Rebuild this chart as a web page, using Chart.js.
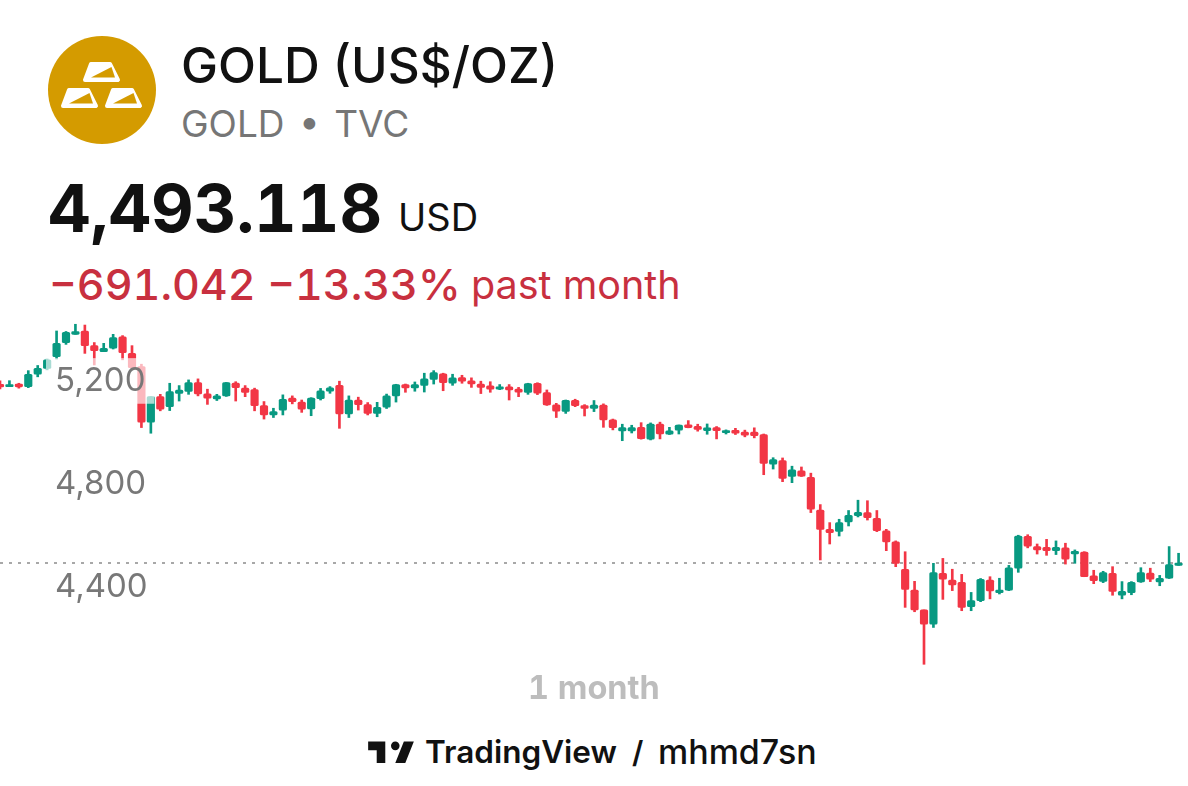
<!DOCTYPE html>
<html>
<head>
<meta charset="utf-8">
<script src="https://cdn.jsdelivr.net/npm/chart.js@4"></script>
<style>
  html, body { margin: 0; padding: 0; background: #fff; }
  body { position: relative; width: 1188px; height: 786px; overflow: hidden; font-family: Inter, "Liberation Sans", sans-serif; }
  .txt { position: absolute; white-space: nowrap; line-height: 1; }
  .num { font-feature-settings: "tnum"; }
  #chart { position: absolute; left: 0; top: 315px; }
</style>
</head>
<body>
<svg style="position:absolute;left:48px;top:36px" width="108" height="108" viewBox="0 0 108 108">
  <circle cx="54" cy="54" r="54" fill="#d49b00"/>
  <g id="bars" stroke-linejoin="round">
    <path d="M43 28H62L70 44H37Z" fill="#fff" stroke="#fff" stroke-width="4"/>
    <path d="M43 41.5L63.5 31L67 41.5Z" fill="#d49b00"/>
    <path d="M21 54H40L48 70H15Z" fill="#fff" stroke="#fff" stroke-width="4"/>
    <path d="M21 67.5L41.5 57L45 67.5Z" fill="#d49b00"/>
    <path d="M65 54H84L92 70H59Z" fill="#fff" stroke="#fff" stroke-width="4"/>
    <path d="M65 67.5L85.5 57L89 67.5Z" fill="#d49b00"/>
  </g>
</svg>
<div class="txt" style="left:181px;top:41px;font-size:49.5px;font-weight:500;color:#111">GOLD (US$/OZ)</div>
<div class="txt" style="left:181px;top:105px;font-size:37px;color:#767676;word-spacing:4px">GOLD • TVC</div>
<div class="txt num" style="left:48px;top:175px;font-size:66px;font-weight:700;color:#111">4,493.118</div>
<div class="txt" style="left:398px;top:198px;font-size:38px;color:#111">USD</div>
<div class="txt num" style="left:49px;top:263px;font-size:43px;font-weight:500;color:#c8303f">−691.042 −13.33%</div>
<div class="txt" style="left:471px;top:266px;font-size:39.5px;color:#c8303f">past month</div>
<canvas id="chart" width="1188" height="365"></canvas>
<div class="txt num" style="left:528px;top:672px;font-size:32.5px;font-weight:700;color:#bdbdbd">1 month</div>
<svg style="position:absolute;left:365px;top:733px" width="52" height="40" viewBox="0 0 36 28">
  <path d="M14 6H2v6h6v9h6V6Zm14 15h-7l6-15h7l-6 15Zm-7-9a3 3 0 1 0 0-6 3 3 0 0 0 0 6Z" fill="#111"/>
</svg>
<div class="txt" style="left:425px;top:736px;font-size:31.5px;font-weight:600;color:#111">TradingView</div>
<div class="txt" style="left:632px;top:737px;font-size:30px;font-weight:600;color:#111">/</div>
<div class="txt" style="left:658px;top:735px;font-size:34px;font-weight:500;color:#111">mhmd7sn</div>
<script>
const opens = [5187,5178,5188,5178,5226,5249,5294,5349,5381,5394,5337,5314,5327,5371,5307,5256,5040,5139,5100,5152,5159,5194,5150,5130,5142,5192,5172,5166,5104,5068,5087,
  5133,5118,5091,5131,5160,5183,5072,5126,5108,5074,5098,5142,5186,5173,5183,5206,5228,5191,5213,5200,5188,5181,5168,5177,5168,5155,5191,5155,5107,5082,5125,
  5104,5093,5106,5049,5006,5006,5020,4974,5033,4993,5009,5030,5024,5007,5019,4999,5008,5001,5001,4992,4877,4891,4829,4851,4826,4699,4624,4616,4653,4677,
  4689,4667,4618,4575,4469,4388,4311,4256,4453,4427,4418,4324,4347,4427,4378,4388,4473,4597,4557,4554,4541,4552,4528,4536,4443,4422,4453,4368,4378,4420,4454,4420,4434,4484];
const closes = [5177,5186,5177,5226,5249,5282,5346,5389,5392,5337,5318,5327,5368,5310,5252,5040,5139,5090,5159,5165,5194,5150,5133,5142,5194,5174,5155,5104,5068,5081,5129,
  5120,5090,5133,5162,5173,5072,5126,5108,5074,5098,5142,5186,5173,5186,5208,5232,5193,5212,5199,5188,5175,5168,5177,5165,5156,5190,5153,5107,5083,5125,5104,
  5093,5106,5049,5019,5019,5019,4976,5033,4994,5006,5029,5019,5012,5018,5007,5007,4997,4989,4988,4880,4895,4822,4855,4830,4702,4624,4611,4650,4678,4690,
  4669,4619,4575,4492,4391,4311,4256,4456,4430,4408,4321,4347,4430,4385,4388,4474,4598,4559,4544,4541,4554,4508,4539,4440,4425,4456,4383,4383,4418,4456,4430,4434,4487,4493];
const highs = [5200,5201,5191,5240,5260,5285,5394,5392,5420,5417,5349,5346,5381,5376,5337,5265,5139,5148,5191,5182,5204,5208,5168,5148,5194,5197,5182,5172,5120,5094,5146,
  5142,5126,5135,5171,5178,5199,5142,5137,5116,5117,5149,5187,5188,5196,5230,5240,5230,5226,5222,5212,5199,5197,5186,5186,5175,5191,5193,5165,5113,5126,5129,
  5108,5124,5111,5052,5032,5028,5038,5037,5040,5020,5029,5046,5032,5033,5023,5010,5016,5009,5018,4994,4902,4901,4869,4866,4842,4720,4650,4663,4697,4737,
  4735,4697,4624,4579,4537,4422,4311,4492,4511,4469,4449,4379,4433,4440,4434,4484,4601,4603,4567,4585,4579,4570,4544,4537,4465,4461,4479,4421,4421,4475,4473,4445,4557,4531];
const lows = [5169,5178,5172,5174,5216,5243,5285,5342,5381,5307,5262,5314,5324,5282,5249,5019,4997,5084,5085,5122,5148,5142,5109,5124,5140,5122,5139,5084,5052,5058,5068,
  5111,5078,5065,5126,5152,5016,5058,5087,5068,5061,5093,5118,5156,5160,5157,5188,5162,5183,5191,5175,5151,5156,5166,5126,5139,5148,5147,5105,5058,5074,5100,
  5064,5081,5020,5010,4968,4998,4974,4971,4975,4992,4994,5018,5005,4993,4975,4994,4992,4983,4979,4836,4858,4809,4805,4829,4689,4505,4567,4598,4637,4672,
  4660,4615,4541,4479,4321,4304,4100,4243,4352,4386,4308,4308,4343,4354,4373,4386,4457,4552,4528,4523,4526,4489,4492,4440,4413,4417,4368,4354,4370,4418,4421,4405,4433,4484];
// the dotted line is the last price shown in the header
const lastPrice = 4493.118;
const yTicks = [5200, 4800, 4400];

const green = '#089981';
const red = '#f23645';
// one spare slot on the right so the last candle sits short of the edge
const categories = [...opens.keys(), opens.length];
const candleColors = opens.map((o, i) => (closes[i] >= o ? green : red));

new Chart(document.getElementById('chart'), {
  type: 'bar',
  data: {
    labels: categories,
    datasets: [
      {
        type: 'line',
        data: categories.map(() => lastPrice),
        borderColor: '#8c8c8c',
        borderWidth: 1.5,
        borderDash: [3, 6],
        pointRadius: 0,
        order: 3
      },
      {
        data: lows.map((l, i) => [l, highs[i]]),
        backgroundColor: candleColors,
        barThickness: 2,
        grouped: false,
        order: 2
      },
      {
        data: opens.map((o, i) => [o, closes[i]]),
        backgroundColor: candleColors,
        barThickness: 7.5,
        borderRadius: 1.5,
        borderSkipped: false,
        grouped: false,
        order: 1
      }
    ]
  },
  options: {
    responsive: false,
    animation: false,
    layout: { padding: 0 },
    plugins: { legend: { display: false }, tooltip: { enabled: false } },
    scales: {
      x: { display: false, offset: false },
      y: {
        min: 4039,
        max: 5456,
        grid: { display: false, drawTicks: false },
        border: { display: false },
        afterBuildTicks: scale => { scale.ticks = yTicks.map(value => ({ value })); },
        afterFit: scale => { scale.width = 0; scale.paddingTop = 0; scale.paddingBottom = 0; },
        ticks: {
          z: 1,
          mirror: true,
          padding: 55,
          color: '#787878',
          font: { family: 'Inter, "Liberation Sans", sans-serif', size: 33 },
          showLabelBackdrop: true,
          backdropColor: 'rgba(255,255,255,0.65)',
          backdropPadding: { x: 9, y: 3 },
          callback: value => value.toLocaleString('en-US')
        }
      }
    }
  }
});
</script>
</body>
</html>
